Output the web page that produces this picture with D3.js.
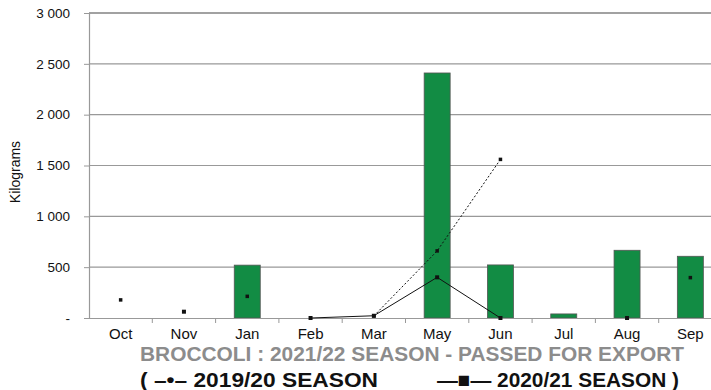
<!DOCTYPE html>
<html><head><meta charset="utf-8">
<script src="https://cdn.jsdelivr.net/npm/d3@7"></script>
<style>body{margin:0;background:#fff}svg{display:block}</style>
</head><body>
<svg id="c" width="711" height="390"></svg>
<script>
const months = ["Oct","Nov","Jan","Feb","Mar","May","Jun","Jul","Aug","Sep"];
const season2122 = [null,null,520,null,null,2410,522,40,666,607];
const season1920 = [178,null,213,null,20,660,1560,null,null,397];
const season2021 = [null,62,null,0,22,400,0,null,0,null];
const yTicks = [0,500,1000,1500,2000,2500,3000];
const yTickLabels = ["-","500","1 000","1 500","2 000","2 500","3 000"];
const title = "BROCCOLI : 2021/22 SEASON - PASSED FOR EXPORT";
const legendA = "( \u2013\u2022\u2013  2019/20 SEASON";
const legendB = "\u2014\u25A0\u2014 2020/21 SEASON )";

const svg = d3.select("#c");
const font = "'Liberation Sans', Arial, sans-serif";
const narrow = "'Liberation Sans Narrow', 'Liberation Sans', Arial, sans-serif";
const L = 89, R = 722, T = 13, B = 318;
const xb = d3.scaleBand().domain(months).range([L, R]);
const y = d3.scaleLinear().domain([0,3000]).range([B, T]);

// gridlines
svg.append("g").selectAll("line").data(yTicks.filter(d=>d>0)).join("line")
  .attr("x1", L).attr("x2", 711).attr("y1", d=>y(d)).attr("y2", d=>y(d))
  .attr("stroke", d=>d===3000?"#444":"#999").attr("stroke-width", 1.2);

// y axis
const ya = svg.append("g").attr("transform", `translate(${L},0)`)
  .call(d3.axisLeft(y).tickValues(yTicks).tickFormat((d,i)=>yTickLabels[i]).tickSize(5).tickPadding(14));
ya.select(".domain").attr("stroke","#999").attr("stroke-width",1.2);
ya.selectAll(".tick line").attr("stroke","#999");
ya.selectAll("text").attr("font-family", font).attr("font-size", 13.5).attr("fill","#111");

// bars
const barData = months.map((m,i)=>({m, v: season2122[i]})).filter(d=>d.v!==null);
svg.append("g").selectAll("rect").data(barData).join("rect")
  .attr("x", d=>xb(d.m) + xb.bandwidth()/2 - 13)
  .attr("width", 26)
  .attr("y", d=>y(d.v)).attr("height", d=>B - y(d.v))
  .attr("fill", "#128c44").attr("stroke", "#555").attr("stroke-width", 0.8);

// x axis
const xa = svg.append("g").attr("transform", `translate(0,${B})`)
  .call(d3.axisBottom(xb).tickSize(0).tickPadding(10));
xa.select(".domain").attr("stroke","#999").attr("stroke-width",1.2);
xa.selectAll("text").attr("font-family", font).attr("font-size", 15).attr("fill","#111");
svg.append("g").selectAll("line").data(months.slice(1)).join("line")
  .attr("x1", d=>xb(d)).attr("x2", d=>xb(d)).attr("y1", B).attr("y2", B+5)
  .attr("stroke","#999");

// lines
const cx = m => xb(m) + xb.bandwidth()/2;
function drawSeries(vals, dash, marker){
  const pts = months.map((m,i)=>({m, v: vals[i]}));
  const line = d3.line().defined(d=>d.v!==null).x(d=>cx(d.m)).y(d=>y(d.v));
  svg.append("path").datum(pts).attr("d", line).attr("fill","none")
    .attr("stroke","#111").attr("stroke-width",1).attr("stroke-dasharray", dash);
  const p = pts.filter(d=>d.v!==null);
  svg.append("g").selectAll("rect").data(p).join("rect")
    .attr("x", d=>cx(d.m)-marker/2).attr("y", d=>y(d.v)-marker/2)
    .attr("width", marker).attr("height", marker).attr("fill","#111");
}
drawSeries(season1920, "2,2", 3.5);
drawSeries(season2021, null, 4);

// y title
svg.append("text").attr("transform","translate(20,172) rotate(-90)")
  .attr("text-anchor","middle").attr("font-family", font).attr("font-size", 14)
  .attr("fill","#111").text("Kilograms");

// title & legend
svg.append("text").attr("x",140).attr("y",361).attr("font-family", narrow)
  .attr("font-weight","bold").attr("font-size",20).attr("fill","#8c8c8c")
  .attr("textLength",544).attr("lengthAdjust","spacingAndGlyphs").text(title);
svg.append("text").attr("x",140).attr("y",387).attr("font-family", narrow)
  .attr("font-weight","bold").attr("font-size",21).attr("fill","#111")
  .attr("textLength",238).attr("lengthAdjust","spacingAndGlyphs").text(legendA);
svg.append("text").attr("x",437).attr("y",387).attr("font-family", narrow)
  .attr("font-weight","bold").attr("font-size",21).attr("fill","#111")
  .attr("textLength",242).attr("lengthAdjust","spacingAndGlyphs").text(legendB);
</script>
</body></html>
